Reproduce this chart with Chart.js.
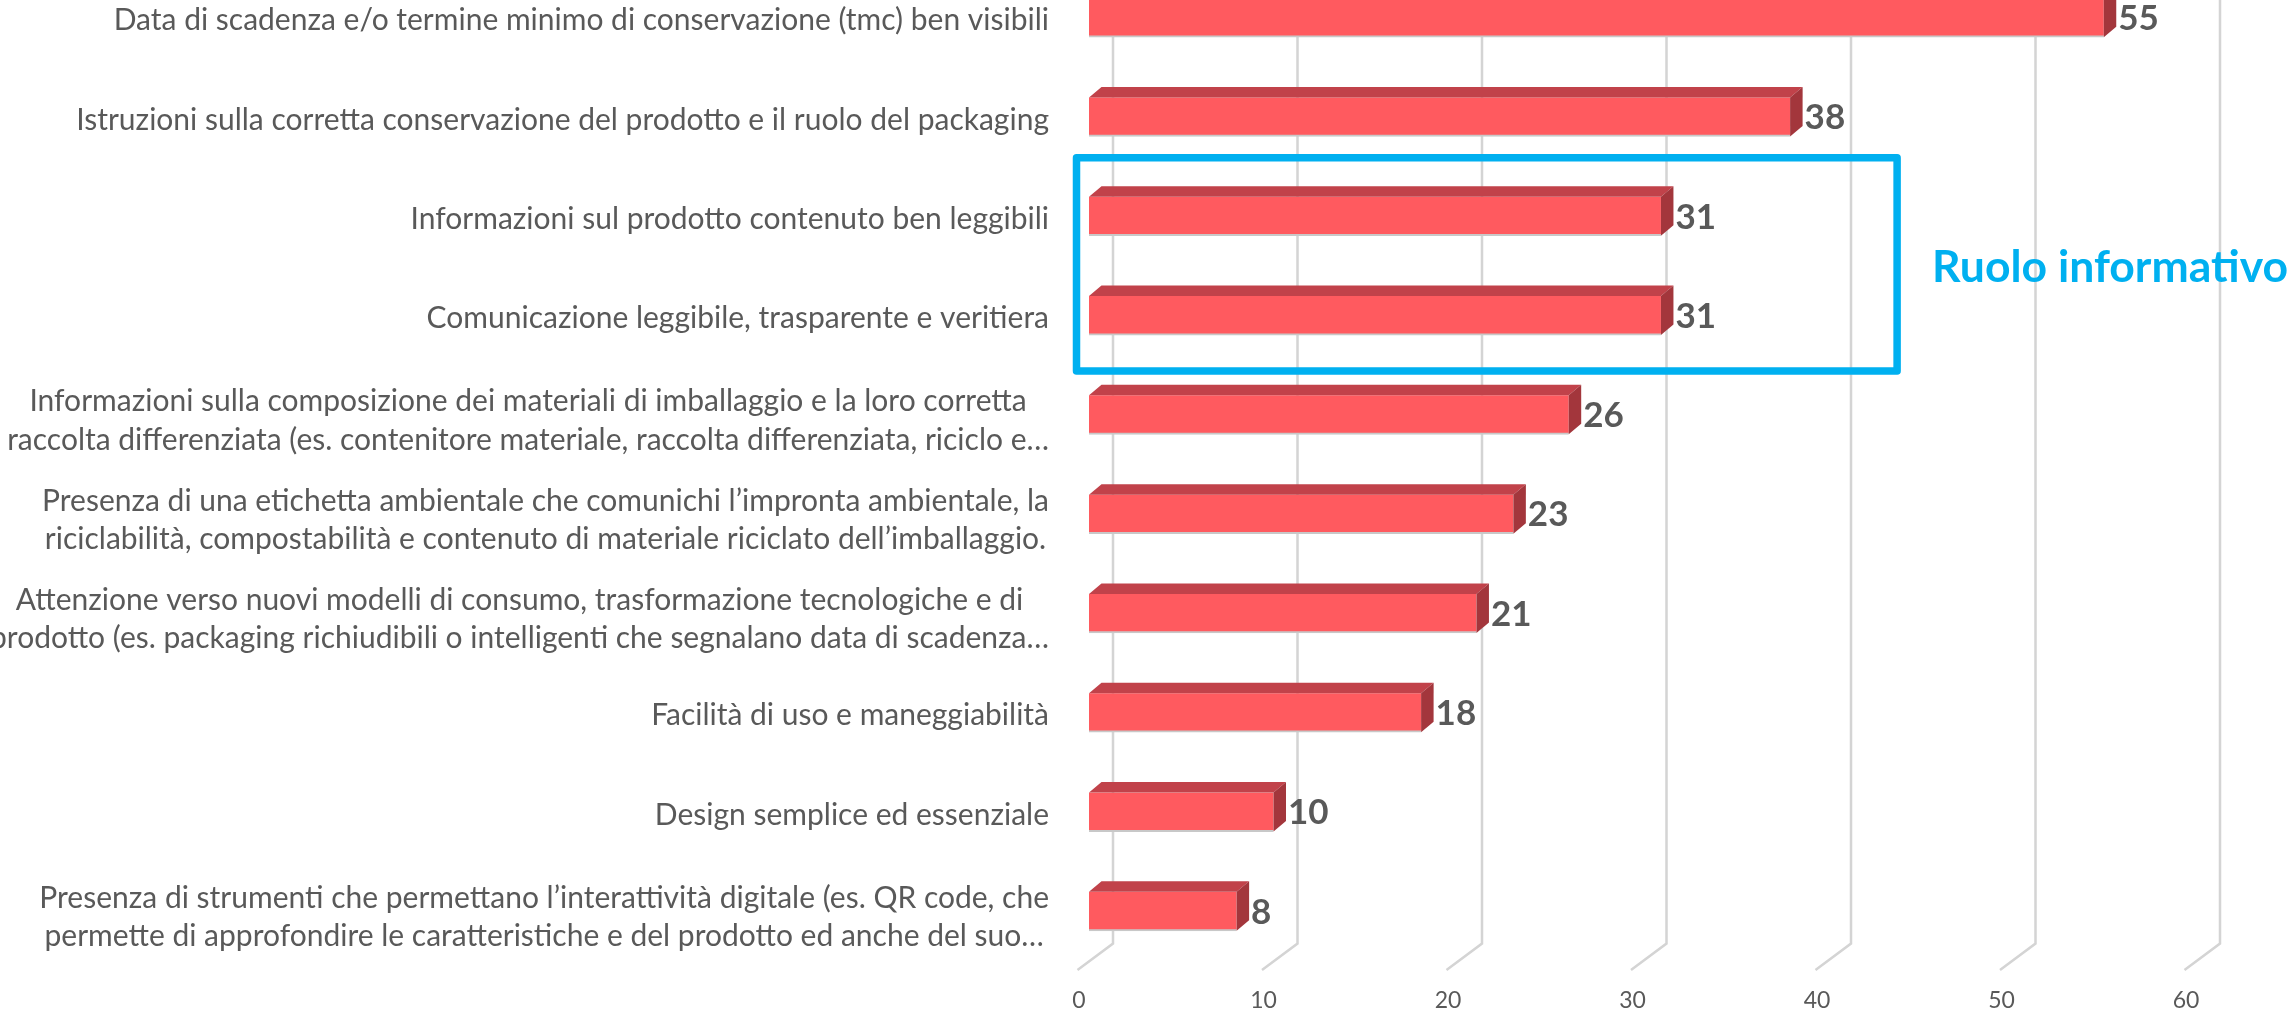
<!DOCTYPE html>
<html>
<head>
<meta charset="utf-8">
<style>
  html, body { margin: 0; padding: 0; background: #fff; overflow: hidden; }
  #wrap { position: relative; width: 2295px; height: 1010px; overflow: hidden; }
  #myChart { position: absolute; left: 0; top: -52px; }
</style>
</head>
<body>
<div id="wrap"><canvas id="myChart" width="2295" height="1073"></canvas></div>
<script src="https://cdn.jsdelivr.net/npm/chart.js@4.4.0/dist/chart.umd.min.js"></script>
<script>
var labels = [
    'Data di scadenza e/o termine minimo di conservazione (tmc) ben visibili',
    'Istruzioni sulla corretta conservazione del prodotto e il ruolo del packaging',
    'Informazioni sul prodotto contenuto ben leggibili',
    'Comunicazione leggibile, trasparente e veritiera',
    ['Informazioni sulla composizione dei materiali di imballaggio e la loro corretta',
     'raccolta differenziata (es. contenitore materiale, raccolta differenziata, riciclo e…'],
    ['Presenza di una etichetta ambientale che comunichi l’impronta ambientale, la',
     'riciclabilità, compostabilità e contenuto di materiale riciclato dell’imballaggio.'],
    ['Attenzione verso nuovi modelli di consumo, trasformazione tecnologiche e di',
     'prodotto (es. packaging richiudibili o intelligenti che segnalano data di scadenza…'],
    'Facilità di uso e maneggiabilità',
    'Design semplice ed essenziale',
    ['Presenza di strumenti che permettano l’interattività digitale (es. QR code, che',
     'permette di approfondire le caratteristiche e del prodotto ed anche del suo…']
];
var values = [55, 38, 31, 31, 26, 23, 21, 18, 10, 8];
var xTicks = [0, 10, 20, 30, 40, 50, 60];

// highlighted group
var boxRows = [2, 3];
var boxMax = 43.8;
var boxTitle = 'Ruolo informativo';

// 3d look
var DX = 12.5, DY = 10.5;
var frontColor = '#FF5A5F', topColor = '#C1424A', sideColor = '#A3363C';
var textColor = '#595959', boxColor = '#00B0F0';
var labelFont = '30px Lato', labelLine = 38.5;

var bars3d = {
    id: 'bars3d',
    beforeDatasetsDraw: function(chart) {
        var ctx = chart.ctx, xs = chart.scales.x, area = chart.chartArea;
        ctx.save();
        ctx.strokeStyle = '#d4d4d4';
        ctx.lineWidth = 2.5;
        xTicks.forEach(function(v) {
            var px = xs.getPixelForValue(v) + 24;
            ctx.beginPath();
            ctx.moveTo(px, 0);
            ctx.lineTo(px, area.bottom - 17.5);
            ctx.lineTo(px - 35.5, area.bottom + 9);
            ctx.stroke();
        });
        ctx.restore();
    },
    afterDatasetsDraw: function(chart) {
        var ctx = chart.ctx, xs = chart.scales.x, ys = chart.scales.y;
        ctx.save();
        chart.getDatasetMeta(0).data.forEach(function(bar, i) {
            var p = bar.getProps(['x', 'y', 'base', 'height'], true);
            var t = p.y - p.height / 2, b = p.y + p.height / 2;
            ctx.fillStyle = topColor;
            ctx.beginPath();
            ctx.moveTo(p.base, t);
            ctx.lineTo(p.base + DX, t - DY);
            ctx.lineTo(p.x + DX, t - DY);
            ctx.lineTo(p.x, t);
            ctx.closePath();
            ctx.fill();
            ctx.fillStyle = sideColor;
            ctx.beginPath();
            ctx.moveTo(p.x, t);
            ctx.lineTo(p.x + DX, t - DY);
            ctx.lineTo(p.x + DX, b - DY);
            ctx.lineTo(p.x, b);
            ctx.closePath();
            ctx.fill();
            ctx.fillStyle = textColor;
            ctx.font = 'bold 35px Lato';
            ctx.textBaseline = 'middle';
            ctx.textAlign = 'left';
            ctx.fillText(values[i], p.x + DX + 2, p.y + 1);
        });

        // category labels: lines centred in a right-aligned block
        ctx.font = labelFont;
        ctx.fillStyle = textColor;
        ctx.textAlign = 'center';
        ctx.textBaseline = 'middle';
        labels.forEach(function(lab, i) {
            var lines = [].concat(lab);
            var w = Math.max.apply(null, lines.map(function(s) { return ctx.measureText(s).width; }));
            var cx = chart.chartArea.left - 40 - w / 2;
            var cy = ys.getPixelForValue(i) + (lines.length > 1 ? 6 : 3);
            lines.forEach(function(s, j) {
                ctx.fillText(s, cx, cy + (j - (lines.length - 1) / 2) * labelLine);
            });
        });

        var left = xs.getPixelForValue(0) - 12.5;
        var right = xs.getPixelForValue(boxMax);
        var y0 = ys.getPixelForValue(boxRows[0]), y1 = ys.getPixelForValue(boxRows[1]);
        ctx.strokeStyle = boxColor;
        ctx.lineWidth = 7.5;
        ctx.lineJoin = 'round';
        ctx.strokeRect(left, y0 - 58.5, right - left, (y1 + 55.5) - (y0 - 58.5));
        ctx.fillStyle = boxColor;
        ctx.font = 'bold 44.5px Lato';
        ctx.textAlign = 'left';
        ctx.fillText(boxTitle, right + 35, (y0 + y1) / 2 + 2);
        ctx.restore();
    }
};

var ctx = document.getElementById('myChart').getContext('2d');
var myChart = new Chart(ctx, {
    type: 'bar',
    data: {
        labels: labels,
        datasets: [{
            data: values,
            backgroundColor: frontColor,
            borderColor: '#c8c8c8',
            borderWidth: {top: 0, right: 0, bottom: 2, left: 0},
            borderSkipped: false,
            barThickness: 39
        }]
    },
    options: {
        indexAxis: 'y',
        responsive: false,
        animation: false,
        layout: {
            padding: {top: 20, right: 99, bottom: 0, left: 0}
        },
        plugins: {
            legend: {display: false},
            tooltip: {enabled: false}
        },
        scales: {
            x: {
                min: 0,
                max: 60,
                ticks: {
                    stepSize: 10,
                    padding: 26,
                    labelOffset: -10,
                    color: textColor,
                    font: {family: 'Lato', size: 23}
                },
                grid: {display: false, drawTicks: false},
                border: {display: false},
                afterFit: function(scale) {
                    scale.height = 60;
                    scale.paddingLeft = 0;
                    scale.paddingRight = 0;
                }
            },
            y: {
                ticks: {display: false},
                grid: {display: false, drawTicks: false},
                border: {display: false},
                afterFit: function(scale) {
                    scale.width = 1089;
                    scale.paddingTop = 0;
                    scale.paddingBottom = 0;
                }
            }
        }
    },
    plugins: [bars3d]
});
</script>
</body>
</html>
